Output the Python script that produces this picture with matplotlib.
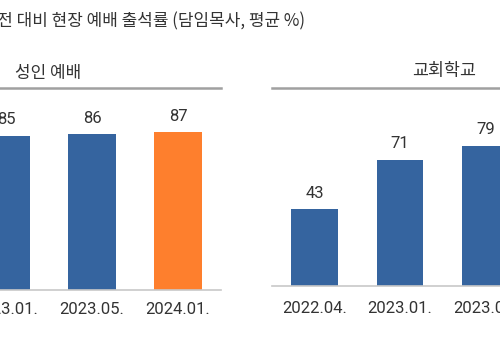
import matplotlib
matplotlib.use("Agg")
import matplotlib.pyplot as plt

# data (both panels are cut by the image edges)
title = "코로나 이전 대비 현장 예배 출석률 (담임목사, 평균 %)"
adult_title = "성인 예배"
adult_labels = ["2023.01.", "2023.05.", "2024.01."]
adult_values = [85, 86, 87]
school_title = "교회학교"
school_labels = ["2022.04.", "2023.01.", "2023.05."]
school_values = [43, 71, 79]

blue = "#35649f"
orange = "#fe7f2d"
text_col = "#333333"

plt.rcParams['font.family'] = ['Roboto', 'Noto Sans CJK KR', 'DejaVu Sans']
kr = ['Noto Sans CJK KR', 'DejaVu Sans']

fig = plt.figure(figsize=(5, 3.4), dpi=100)


def draw_panel(rect, labels, values, colors, width, ytop, pad):
    ax = fig.add_axes(rect)
    x = range(len(values))
    bars = ax.bar(x, values, width=width, color=colors)
    for b, v in zip(bars, values):
        ax.annotate(str(v), (b.get_x() + b.get_width() / 2, v),
                    xytext=(0, 11.5), textcoords='offset points',
                    ha='center', va='center', fontsize=12, color=text_col)
    ax.set_xlim(-0.5, len(values) - 0.5)
    ax.set_ylim(0, ytop)
    ax.set_xticks(list(x))
    ax.set_xticklabels(labels, fontsize=12, color=text_col)
    ax.tick_params(axis='x', length=0, pad=pad)
    ax.set_yticks([])
    ax.spines['left'].set_visible(False)
    ax.spines['right'].set_visible(False)
    ax.spines['bottom'].set_color('#c8c8c8')
    ax.spines['bottom'].set_linewidth(1.2)
    ax.spines['top'].set_color('#a0a0a0')
    ax.spines['top'].set_linewidth(1.8)
    return ax


# left panel: adult worship (last bar highlighted)
adult_colors = [blue] * (len(adult_values) - 1) + [orange]
draw_panel([-37 / 500, 50 / 340, 258 / 500, 202 / 340],
           adult_labels, adult_values, adult_colors, 0.56, 111.4, 8.6)

# right panel: church school
draw_panel([271.75 / 500, 54.5 / 340, 256.5 / 500, 197.5 / 340],
           school_labels, school_values, blue, 0.54, 111.7, 11)

# headings
fig.text(305 / 500, 1 - 21 / 340, title, ha='right', va='center',
         fontsize=12.2, color=text_col, family=kr)
fig.text(15 / 500, 1 - 73 / 340, adult_title, ha='left', va='center',
         fontsize=12.2, color=text_col, family=kr)
fig.text(476 / 500, 1 - 71 / 340, school_title, ha='right', va='center',
         fontsize=12.5, color=text_col, family=kr)

fig.savefig("out.png", dpi=100)
